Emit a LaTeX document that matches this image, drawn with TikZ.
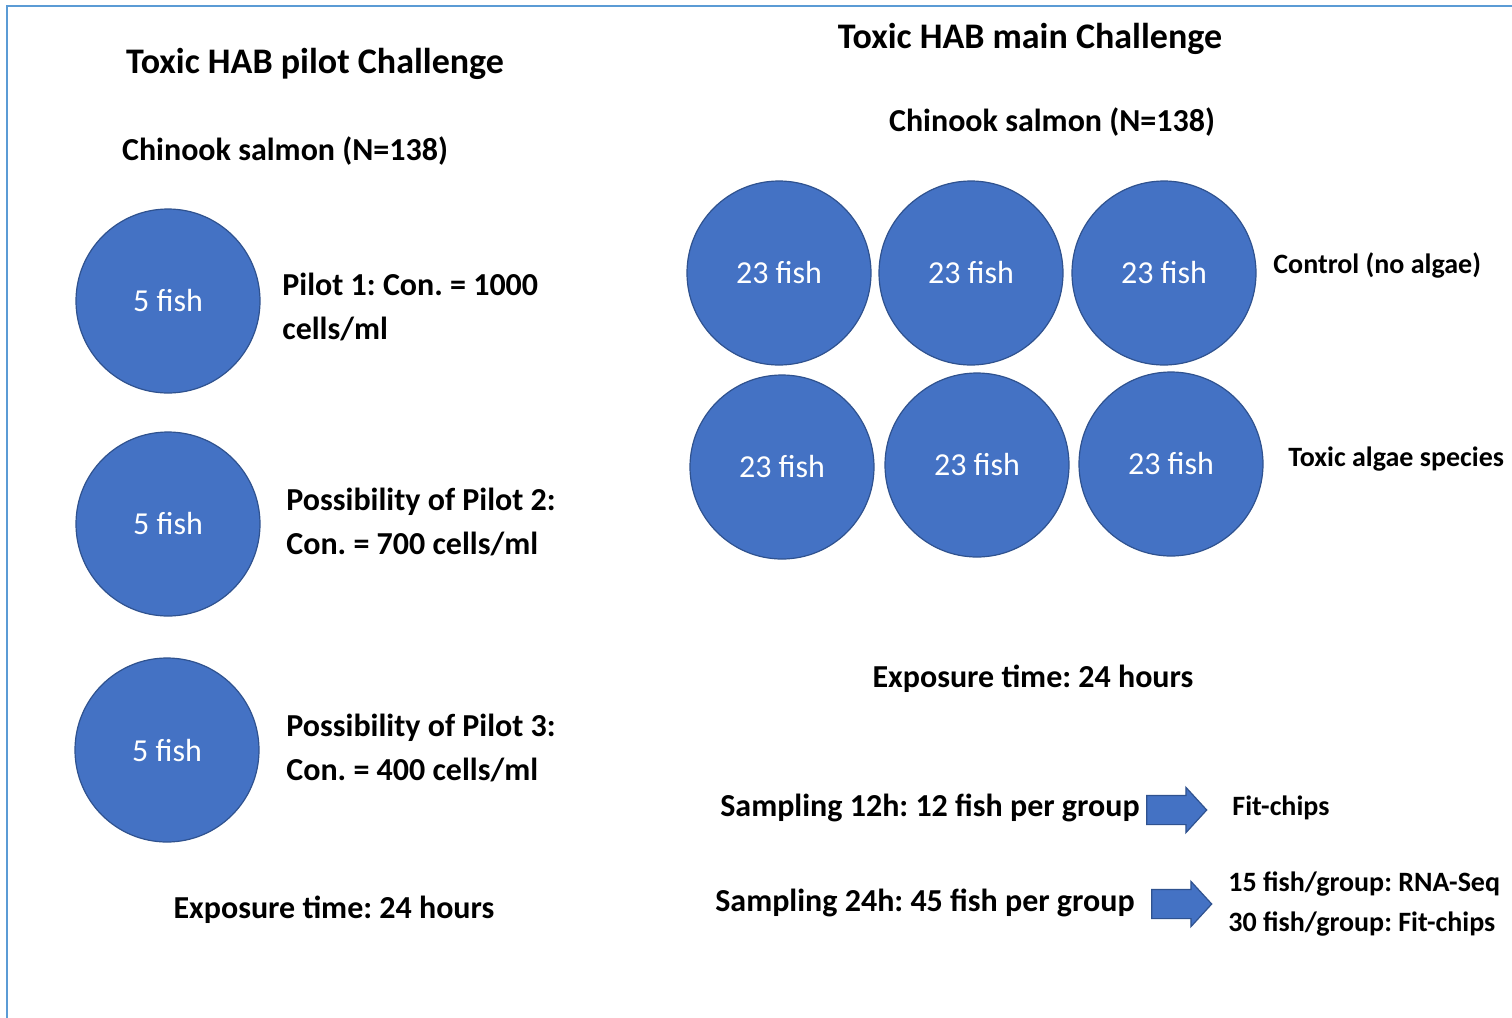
\documentclass[tikz,border=0pt]{standalone}
\usepackage{fontspec}
\setmainfont{Carlito}
\usetikzlibrary{shapes.arrows}
\usetikzlibrary{positioning}
\definecolor{tankblue}{HTML}{4472C4}
\definecolor{tankedge}{HTML}{2F528F}
\definecolor{frameblue}{HTML}{5B9BD5}
\tikzset{txt/.style={inner sep=0pt}}
\frenchspacing

\begin{document}
\begin{tikzpicture}[x=0.5pt,y=-0.5pt]
\tikzstyle{tank} = [circle, minimum size=92pt, inner sep=0pt, fill=tankblue, draw=tankedge, line width=0.6pt, text=white, font=\fontsize{16}{19}\selectfont]
\tikzstyle{head} = [txt, font=\bfseries\fontsize{18}{22}\selectfont]
\tikzstyle{sub} = [txt, font=\bfseries\fontsize{16}{22}\selectfont]
\tikzstyle{lbl} = [txt, anchor=west, align=left, font=\bfseries\fontsize{16}{22}\selectfont]
\tikzstyle{side} = [txt, anchor=west, align=left, font=\bfseries\fontsize{14}{20}\selectfont]
\tikzstyle{blockarrow} = [single arrow, fill=tankblue, draw=tankedge, line width=0.6pt, minimum height=30pt, minimum width=22pt, single arrow head extend=4pt, single arrow tip angle=95, inner xsep=0pt, inner ysep=7pt]

\useasboundingbox (0,0) rectangle (1512,1018);
\draw[frameblue, line width=1pt] (1512,6) -- (7,6) -- (7,1018);

% pilot challenge
\node[head](ptitle) at (315, 64){Toxic HAB pilot Challenge};
\node[sub](pfish) at (285, 151){Chinook salmon (N=138)};

\node[tank](p1) at (168, 301){5 fish};
\node[tank](p2) at (168, 524){5 fish};
\node[tank](p3) at (167, 750){5 fish};

\node[lbl](p1lbl) at (282, 307){Pilot 1: Con. = 1000\\cells/ml};
\node[lbl](p2lbl) at (286, 522){Possibility of Pilot 2:\\Con. = 700 cells/ml};
\node[lbl](p3lbl) at (286, 748){Possibility of Pilot 3:\\Con. = 400 cells/ml};

\node[sub](pexp) at (334, 910){Exposure time: 24 hours};

% main challenge
\node[head](mtitle) at (1030, 39){Toxic HAB main Challenge};
\node[sub](mfish) at (1052, 122){Chinook salmon (N=138)};

\node[tank](c1) at (779, 273){23 fish};
\node[tank](c2) at (971, 273){23 fish};
\node[tank](c3) at (1164, 273){23 fish};
\node[tank](t1) at (782, 467){23 fish};
\node[tank](t2) at (977, 465){23 fish};
\node[tank](t3) at (1171, 464){23 fish};

\node[side](ctrl) at (1273, 265){Control (no algae)};
\node[side](toxic) at (1288, 459){Toxic algae species};

\node[sub](mexp) at (1033, 679){Exposure time: 24 hours};

% sampling
\node[sub, anchor=east](s12) at (1140, 808){Sampling 12h: 12 fish per group};
\node[blockarrow](a12) at (1170, 810){};
\node[side](r12) at (1232, 808){Fit-chips};

\node[sub, anchor=east](s24) at (1135, 903){Sampling 24h: 45 fish per group};
\node[blockarrow](a24) at (1175, 904){};
\node[side](r24) at (1228, 904){15 fish/group: RNA-Seq\\30 fish/group: Fit-chips};
\end{tikzpicture}
\end{document}
